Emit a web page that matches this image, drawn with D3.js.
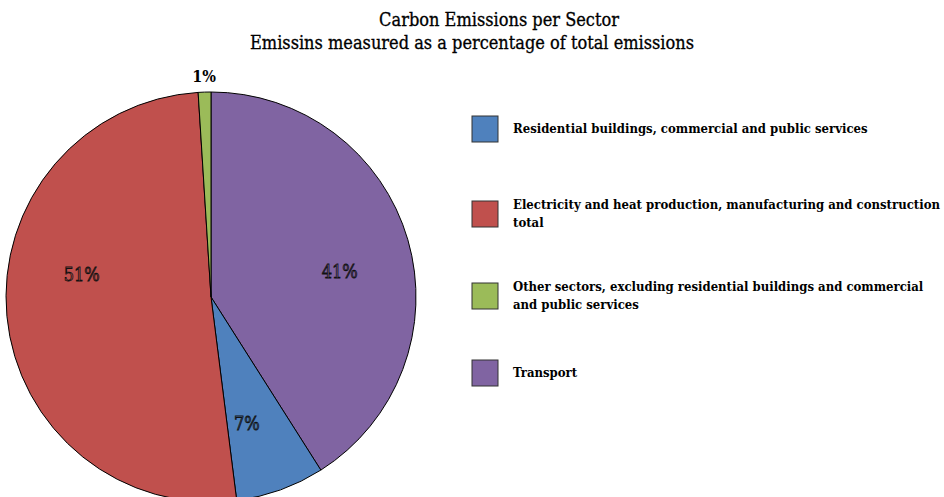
<!DOCTYPE html>
<html>
<head>
<meta charset="utf-8">
<script src="https://cdn.jsdelivr.net/npm/d3@7"></script>
<style>
  body { margin: 0; background: #fff; }
  svg { display: block; font-family: "DejaVu Serif Condensed", "DejaVu Serif", serif; font-stretch: condensed; }
</style>
</head>
<body>
<svg id="mainSVG" width="944" height="497"></svg>
<script>
// sectors, in the order they go round the pie clockwise from 12 o'clock
var sectors = ["Transport", "Residential buildings, commercial and public services",
  "Electricity and heat production, manufacturing and construction total",
  "Other sectors, excluding residential buildings and commercial and public services"];
var shares = [41, 7, 51, 1];
var colours = ["#8064A2", "#4F81BD", "#C0504D", "#9BBB59"];

// legend order and wrapped lines
var legendOrder = [1, 2, 3, 0];
var legendLines = [
  ["Transport"],
  ["Residential buildings, commercial and public services"],
  ["Electricity and heat production, manufacturing and construction", "total"],
  ["Other sectors, excluding residential buildings and commercial", "and public services"]
];
var legendY = [116, 201, 283, 360];

var titleLines = ["Carbon Emissions per Sector", "Emissins measured as a percentage of total emissions"];

// deslocamento angular dos rotulos (graus), como o Excel os coloca
var labelNudge = [5, 4, 15, 0];

var mainSVG = d3.select("#mainSVG");

// titulo
mainSVG.append("text")
  .attr("x", 499).attr("y", 26)
  .attr("text-anchor", "middle")
  .style("font-size", "18px")
  .style("stroke", "#000").style("stroke-width", 0.3)
  .text(titleLines[0]);
mainSVG.append("text")
  .attr("x", 472).attr("y", 49)
  .attr("text-anchor", "middle")
  .style("font-size", "18px")
  .style("stroke", "#000").style("stroke-width", 0.3)
  .text(titleLines[1]);

// pizza
var cx = 211, cy = 297, r = 205;
var data = sectors.map(function (s, i) { return {nome: s, valor: shares[i], cor: colours[i], nudge: labelNudge[i]}; });
var pie = d3.pie().sort(null).value(function (d) { return d.valor; });
var arc = d3.arc().innerRadius(0).outerRadius(r);
var labelR = r * 0.64;

var g = mainSVG.append("g").attr("transform", "translate(" + cx + "," + cy + ")");
var arcs = pie(data);

g.selectAll("path")
  .data(arcs)
  .enter().append("path")
  .attr("d", arc)
  .attr("fill", function (d) { return d.data.cor; })
  .attr("stroke", "#000")
  .attr("stroke-width", 1);

g.selectAll(".pct")
  .data(arcs)
  .enter().append("text")
  .attr("class", "pct")
  .attr("transform", function (d) {
    var a = (d.startAngle + d.endAngle) / 2 + d.data.nudge * Math.PI / 180;
    var rr = d.data.valor < 3 ? r + 16 : labelR;
    return "translate(" + (rr * Math.sin(a)) + "," + (-rr * Math.cos(a)) + ")";
  })
  .attr("text-anchor", "middle")
  .attr("dy", "0.35em")
  .style("font-size", function (d) { return d.data.valor < 3 ? "16px" : "18px"; })
  .style("font-weight", function (d) { return d.data.valor < 3 ? "bold" : "normal"; })
  .attr("fill", function (d) { return d.data.valor < 3 ? "#000" : d.data.cor; })
  .attr("stroke", function (d) { return d.data.valor < 3 ? "none" : "#111"; })
  .attr("stroke-width", 0.8)
  .text(function (d) { return d.data.valor + "%"; });

// legenda
var leg = mainSVG.selectAll(".leg")
  .data(legendOrder)
  .enter().append("g")
  .attr("class", "leg")
  .attr("transform", function (d, i) { return "translate(472," + legendY[i] + ")"; });

leg.append("rect")
  .attr("width", 26).attr("height", 26)
  .attr("fill", function (d) { return colours[d]; })
  .attr("stroke", "#333");

leg.append("text")
  .attr("x", 41)
  .style("font-size", "13px")
  .style("font-weight", "bold")
  .each(function (d, i) {
    var lines = legendLines[d];
    var t = d3.select(this);
    var y0 = lines.length > 1 ? 8 : 17;
    lines.forEach(function (l, k) {
      t.append("tspan").attr("x", 41).attr("y", y0 + k * 18).text(l);
    });
  });
</script>
</body>
</html>
